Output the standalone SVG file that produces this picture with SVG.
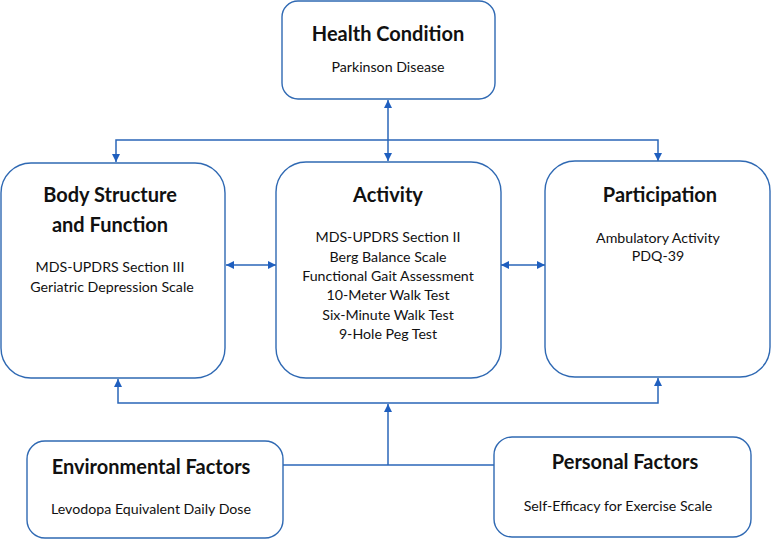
<svg xmlns="http://www.w3.org/2000/svg" width="771" height="539" viewBox="0 0 771 539">
<style>
.box{fill:#fff;stroke:#2f69b3;stroke-width:1.4}
.t{font-family:Lato,"Liberation Sans",sans-serif;font-weight:bold;font-size:20px;fill:#111;text-anchor:middle}
.s{font-family:Lato,"Liberation Sans",sans-serif;font-size:14.2px;fill:#111;text-anchor:middle}
.c{fill:none;stroke:#2a66b8;stroke-width:1.5}
</style>
<defs>
<marker id="ah" viewBox="0 0 10 10" refX="10" refY="5" markerWidth="9" markerHeight="8" markerUnits="userSpaceOnUse" orient="auto-start-reverse">
<path d="M0,0 L10,5 L0,10 z" fill="#1f5fbf"/>
</marker>
</defs>
<g id="connectors">
<line class="c" x1="388" y1="100" x2="388" y2="161" marker-start="url(#ah)" marker-end="url(#ah)"/>
<polyline class="c" points="116,162 116,140 658,140 658,161" marker-start="url(#ah)" marker-end="url(#ah)"/>
<line class="c" x1="226" y1="265" x2="276" y2="265" marker-start="url(#ah)" marker-end="url(#ah)"/>
<line class="c" x1="501" y1="265" x2="545" y2="265" marker-start="url(#ah)" marker-end="url(#ah)"/>
<polyline class="c" points="118,379 118,403 658,403 658,378" marker-start="url(#ah)" marker-end="url(#ah)"/>
<line class="c" x1="283" y1="465" x2="494" y2="465"/>
<line class="c" x1="388" y1="465" x2="388" y2="404" marker-end="url(#ah)"/>
</g>
<g id="health">
<rect class="box" x="282" y="1" width="213" height="98" rx="16"/>
<text class="t" x="388" y="41">Health Condition</text>
<text class="s" x="388" y="72">Parkinson Disease</text>
</g>
<g id="body">
<rect class="box" x="1" y="163" width="224" height="215" rx="30"/>
<text class="t" x="110" y="202">Body Structure</text>
<text class="t" x="110" y="232">and Function</text>
<text class="s" x="110" y="272">MDS-UPDRS Section III</text>
<text class="s" x="112" y="292">Geriatric Depression Scale</text>
</g>
<g id="activity">
<rect class="box" x="276" y="162" width="225" height="216" rx="30"/>
<text class="t" x="388" y="202">Activity</text>
<text class="s" x="388" y="242">MDS-UPDRS Section II</text>
<text class="s" x="388" y="261.5">Berg Balance Scale</text>
<text class="s" x="388" y="281">Functional Gait Assessment</text>
<text class="s" x="388" y="300">10-Meter Walk Test</text>
<text class="s" x="388" y="319.5">Six-Minute Walk Test</text>
<text class="s" x="388" y="339">9-Hole Peg Test</text>
</g>
<g id="participation">
<rect class="box" x="545" y="161" width="225" height="216" rx="30"/>
<text class="t" x="660" y="202">Participation</text>
<text class="s" x="658" y="243">Ambulatory Activity</text>
<text class="s" x="658" y="261">PDQ-39</text>
</g>
<g id="environmental">
<rect class="box" x="27" y="441" width="256" height="97" rx="18"/>
<text class="t" x="151" y="474">Environmental Factors</text>
<text class="s" x="151" y="514">Levodopa Equivalent Daily Dose</text>
</g>
<g id="personal">
<rect class="box" x="494" y="437" width="257" height="100" rx="18"/>
<text class="t" x="625" y="469">Personal Factors</text>
<text class="s" x="618" y="511">Self-Efficacy for Exercise Scale</text>
</g>
</svg>
